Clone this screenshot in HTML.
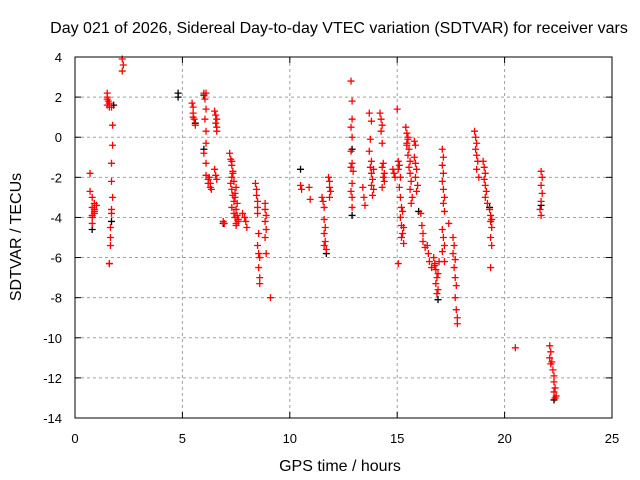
<!DOCTYPE html>
<html><head><meta charset="utf-8"><style>
body{margin:0;background:#fff}
svg{display:block;font-family:"Liberation Sans",sans-serif}
</style></head><body>
<svg id="chart" width="640" height="480" viewBox="0 0 640 480">
<rect width="640" height="480" fill="#fff"/>
<text x="339" y="33" font-size="16" text-anchor="middle">Day 021 of 2026, Sidereal Day-to-day VTEC variation (SDTVAR) for receiver vars</text>
<text x="340" y="471" font-size="16" text-anchor="middle">GPS time / hours</text>
<text x="21" y="237" font-size="16" text-anchor="middle" transform="rotate(-90 21 237)">SDTVAR / TECUs</text>
<g id="grid"></g><g id="ticks"></g><g id="black"></g><g id="red"></g>
<rect x="75" y="57" width="537" height="361" fill="none" stroke="#000" stroke-width="1"/>
</svg>
<script>
const xTicks=[0,5,10,15,20,25];
const yTicks=[4,2,0,-2,-4,-6,-8,-10,-12,-14];
const redTimes=[0.7,0.7,0.8,0.8,0.9,0.9,0.8,0.9,0.8,1.0,0.9,0.8,
1.5,1.5,1.5,1.55,1.6,1.5,1.6,1.7,1.75,1.75,1.7,1.7,1.75,1.7,1.7,1.65,1.65,1.65,1.6,1.6,
2.2,2.25,2.2,
5.45,5.5,5.5,5.5,5.55,5.6,
6.0,6.1,6.05,6.1,6.05,6.1,6.1,6.0,6.1,6.1,6.2,6.2,6.3,6.35,6.25,6.3,
6.5,6.55,6.6,6.55,6.6,6.6,6.5,6.55,6.6,
6.9,6.95,
7.2,7.25,7.3,7.35,7.3,7.25,7.3,7.35,7.4,7.3,7.4,7.45,7.5,7.4,7.5,7.45,7.5,7.55,7.6,7.5,7.6,7.3,7.35,7.45,7.55,
7.8,7.9,7.95,8.0,
8.4,8.45,8.45,8.5,8.5,8.5,8.55,8.5,8.55,8.6,8.55,8.6,8.6,
8.85,8.85,8.9,8.85,8.9,8.85,8.9,9.1,
10.5,10.55,10.9,10.95,
11.5,11.55,11.6,11.6,11.65,11.6,11.65,11.6,11.7,11.8,11.85,11.85,11.9,11.85,
12.85,12.9,12.9,12.85,12.9,12.85,12.9,12.85,12.9,12.85,12.9,12.9,12.95,
13.4,13.45,13.5,
13.7,13.8,13.75,13.7,13.8,13.75,13.8,13.85,13.8,13.9,13.85,13.9,
14.2,14.25,14.3,14.25,14.3,14.35,14.3,14.4,14.35,14.4,14.3,
14.8,14.85,14.9,
15.0,15.05,15.1,15.05,15.15,15.1,15.15,15.2,15.15,15.2,15.25,15.2,15.3,15.05,15.3,15.25,
15.4,15.45,15.5,15.45,15.55,15.5,15.6,15.55,15.6,15.65,15.6,15.7,15.65,15.5,15.45,
15.8,15.85,15.9,15.85,15.95,15.9,15.8,15.85,
16.1,16.15,16.2,16.2,16.3,
16.4,16.45,16.5,16.6,
16.7,16.75,16.8,16.85,16.8,16.9,16.85,16.9,16.75,16.95,
17.1,17.15,17.1,17.15,17.1,17.15,17.2,17.15,17.2,17.1,17.15,17.2,17.1,17.2,17.4,
17.6,17.65,17.6,17.7,17.65,17.7,17.75,17.7,17.75,17.8,17.8,
18.6,18.65,18.7,18.65,18.7,18.75,18.7,18.8,
19.0,19.05,19.1,19.05,19.1,19.15,19.1,19.2,
19.3,19.35,19.4,19.35,19.4,19.35,19.4,19.35,
20.5,
21.7,21.75,21.7,21.75,21.7,21.65,21.7,
22.1,22.15,22.1,22.2,22.15,22.25,22.3,22.3,22.35,22.3,22.4,22.35];
const redValues=[-1.8,-2.7,-3.0,-3.5,-3.3,-3.7,-4.0,-3.8,-4.3,-3.4,-3.6,-3.9,
2.2,2.0,1.9,1.8,1.7,1.6,1.5,1.5,0.6,-0.4,-1.3,-2.2,-3.0,-3.6,-3.8,-4.5,-5.0,-5.4,-6.3,-6.3,
3.9,3.6,3.3,
1.7,1.5,1.2,1.0,0.9,0.6,
2.2,2.2,1.9,1.4,0.9,0.3,-0.3,-0.8,-1.3,-1.9,-2.1,-2.3,-2.5,-2.6,-2.0,-2.3,
1.3,1.1,0.9,0.7,0.5,0.3,-1.6,-1.9,-2.1,
-4.2,-4.3,
-0.8,-1.1,-1.4,-1.7,-2.0,-2.3,-2.6,-2.9,-3.2,-3.5,-3.8,-4.0,-4.3,-2.2,-2.5,-3.0,-3.6,-3.9,-4.1,-4.4,-4.2,-1.2,-1.8,-2.8,-3.3,
-3.8,-4.0,-4.2,-4.5,
-2.3,-2.6,-2.9,-3.2,-3.5,-3.8,-4.8,-5.4,-5.8,-6.0,-6.5,-7.0,-7.3,
-3.3,-3.6,-3.9,-4.2,-4.6,-5.0,-5.8,-8.0,
-2.4,-2.6,-2.5,-3.1,
-3.0,-3.2,-3.5,-4.1,-4.5,-4.8,-5.2,-5.4,-5.6,-2.0,-2.2,-2.5,-2.7,-3.0,
2.8,1.8,0.9,0.5,0.0,-0.7,-1.3,-1.5,-2.3,-2.7,-3.0,-3.5,-1.7,
-2.5,-3.0,-3.4,
1.2,0.8,-0.1,-0.7,-1.2,-1.5,-1.8,-2.1,-2.4,-2.6,-2.9,-1.6,
1.2,0.9,0.6,0.3,-0.3,-1.3,-1.5,-1.8,-2.0,-2.2,-2.5,
-1.6,-1.8,-2.0,
1.4,-1.2,-1.4,-1.6,-2.0,-2.5,-3.0,-3.5,-4.0,-4.4,-4.8,-5.0,-5.3,-6.3,-4.5,-3.7,
0.5,0.2,0.0,-0.3,-0.6,-0.9,-1.2,-1.5,-1.8,-2.2,-2.6,-3.0,-3.3,-0.1,-0.4,
-1.0,-1.3,-1.6,-2.0,-2.4,-2.7,-0.2,-0.4,
-3.8,-4.4,-4.8,-5.2,-5.5,
-5.4,-5.8,-6.2,-6.5,
-6.0,-6.3,-6.6,-7.0,-7.3,-7.6,-7.8,-6.8,-6.4,-6.2,
-0.6,-1.0,-1.4,-1.8,-2.2,-2.6,-3.0,-3.3,-3.7,-4.6,-5.0,-5.4,-5.7,-6.2,-4.3,
-5.0,-5.4,-5.8,-6.1,-6.5,-7.0,-7.4,-8.0,-8.6,-9.0,-9.3,
0.3,0.0,-0.3,-0.6,-0.9,-1.2,-1.6,-2.0,
-1.2,-1.5,-1.8,-2.1,-2.4,-2.7,-3.0,-3.3,
-3.6,-3.9,-4.1,-4.2,-4.5,-5.0,-5.4,-6.5,
-10.5,
-1.7,-2.0,-2.4,-2.8,-3.2,-3.6,-3.9,
-10.4,-10.7,-11.0,-11.2,-11.3,-11.6,-11.9,-12.2,-12.5,-12.7,-12.9,-13.0];
const blackTimes=[0.8,1.7,1.8,4.8,4.8,5.6,6.0,6.0,6.9,10.5,11.7,12.9,12.9,16.0,16.9,19.3,22.3,21.7];
const blackValues=[-4.6,-4.2,1.6,2.2,2.0,0.7,2.1,-0.6,-4.3,-1.6,-5.8,-0.6,-3.9,-3.7,-8.1,-3.5,-13.1,-3.4];

const X0=75,X1=612,Y0=57,Y1=418;
const xs=t=>X0+(t/25)*(X1-X0);
const ys=v=>Y0+((4-v)/18)*(Y1-Y0);
const NS='http://www.w3.org/2000/svg';
function mk(tag,attrs,parent){const e=document.createElementNS(NS,tag);for(const k in attrs)e.setAttribute(k,attrs[k]);parent.appendChild(e);return e;}
const grid=document.getElementById('grid'),ticks=document.getElementById('ticks');
xTicks.forEach(t=>{
  const x=xs(t);
  if(t>0&&t<25){const g=mk('line',{x1:x,x2:x,y1:Y0,y2:Y1,stroke:'#a0a0a0','stroke-dasharray':'3,3'},grid);
  
  }
  mk('line',{x1:x,x2:x,y1:Y1,y2:Y1-6,stroke:'#000'},ticks);
  mk('line',{x1:x,x2:x,y1:Y0,y2:Y0+6,stroke:'#000'},ticks);
  const l=mk('text',{x:x,y:443,'font-size':13,'text-anchor':'middle'},ticks);
  l.textContent=t;
  
  
});
yTicks.forEach(v=>{
  const y=ys(v);
  if(v<4&&v>-14){const g=mk('line',{x1:X0,x2:X1,y1:y,y2:y,stroke:'#a0a0a0','stroke-dasharray':'3,3'},grid);
  
  }
  mk('line',{x1:X0,x2:X0+6,y1:y,y2:y,stroke:'#000'},ticks);
  mk('line',{x1:X1,x2:X1-6,y1:y,y2:y,stroke:'#000'},ticks);
  const l=mk('text',{x:62,y:y+5,'font-size':13,'text-anchor':'end'},ticks);
  l.textContent=v;
  
  
});
function plot(times,vals,color,gid,name){
  const g=document.getElementById(gid);
  times.forEach((t,i)=>{
    const x=xs(t),y=ys(vals[i]);
    const p=mk('path',{d:`M${x-3.5},${y}H${x+3.5}M${x},${y-3.5}V${y+3.5}`,stroke:color,'stroke-width':1.3,fill:'none'},g);
    
    
  });
}
plot(blackTimes,blackValues,'#000','black','black-point');
plot(redTimes,redValues,'#ff0000','red','red-point');
</script>
</body></html>
